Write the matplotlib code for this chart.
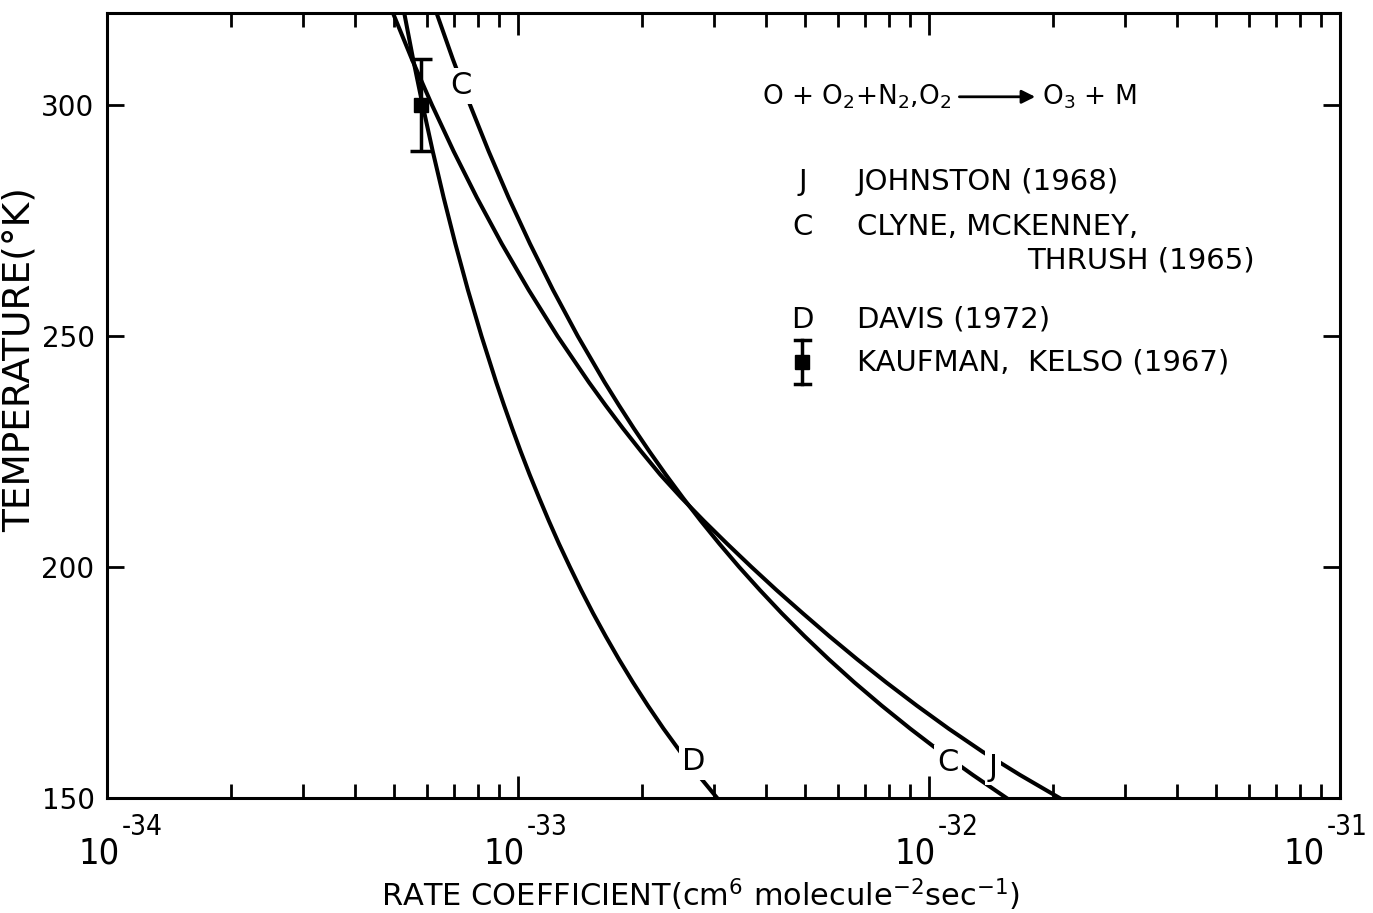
import numpy as np
import matplotlib
matplotlib.use('Agg')
import matplotlib.pyplot as plt

# temperatures (K) and rate coefficients
temps = [320, 310, 300, 290, 280, 270, 260, 250, 240, 235, 230, 225,
         220, 215, 210, 205, 200, 195, 190, 185, 180, 175, 170, 165,
         160, 155, 150]
k_johnston = [4.958e-34, 5.513e-34, 6.176e-34, 6.970e-34, 7.937e-34, 9.126e-34,
              1.061e-33, 1.247e-33, 1.487e-33, 1.633e-33, 1.800e-33, 1.994e-33,
              2.218e-33, 2.496e-33, 2.831e-33, 3.229e-33, 3.698e-33, 4.255e-33,
              4.926e-33, 5.723e-33, 6.690e-33, 7.872e-33, 9.335e-33, 1.116e-32,
              1.350e-32, 1.663e-32, 2.077e-32]
k_clyne = [6.331e-34, 6.936e-34, 7.645e-34, 8.482e-34, 9.481e-34, 1.069e-33,
           1.216e-33, 1.397e-33, 1.624e-33, 1.760e-33, 1.913e-33, 2.088e-33,
           2.288e-33, 2.518e-33, 2.783e-33, 3.091e-33, 3.451e-33, 3.877e-33,
           4.379e-33, 4.981e-33, 5.705e-33, 6.585e-33, 7.667e-33, 9.000e-33,
           1.066e-32, 1.277e-32, 1.543e-32]
k_davis = [5.283e-34, 5.553e-34, 5.858e-34, 6.200e-34, 6.590e-34, 7.036e-34,
           7.549e-34, 8.147e-34, 8.847e-34, 9.245e-34, 9.678e-34, 1.015e-33,
           1.067e-33, 1.125e-33, 1.188e-33, 1.258e-33, 1.337e-33, 1.424e-33,
           1.522e-33, 1.634e-33, 1.760e-33, 1.904e-33, 2.069e-33, 2.259e-33,
           2.482e-33, 2.742e-33, 3.050e-33]

# Kaufman, Kelso (1967) room temperature point
kaufman_k = [5.8e-34]
kaufman_T = [300]
kaufman_err = [10]

xtick_vals = [1e-34, 1e-33, 1e-32, 1e-31]
xtick_exps = ['-34', '-33', '-32', '-31']
xtick_shift = [9, 5, 5, -11]   # points, where "10" ends

plt.rcParams['font.family'] = 'DejaVu Sans'

fig = plt.figure(figsize=(13.73, 9.13), dpi=100)
ax = fig.add_axes([0.078, 0.126, 0.898, 0.860])

lw = 2.9
ax.plot(k_johnston, temps, color='k', lw=lw)
ax.plot(k_clyne, temps, color='k', lw=lw)
ax.plot(k_davis, temps, color='k', lw=lw)
ax.errorbar(kaufman_k, kaufman_T, yerr=kaufman_err, fmt='s', color='k',
            ms=10, capsize=8, elinewidth=2.5, capthick=2.5)

# curve letters (white box breaks the line like the original)
box = dict(facecolor='white', edgecolor='none', pad=2.5)
ax.text(7.26e-34, 304.2, 'C', fontsize=22, ha='center', va='center', bbox=box)
ax.text(2.68e-33, 157.8, 'D', fontsize=22, ha='center', va='center', bbox=box)
ax.text(1.11e-32, 157.6, 'C', fontsize=22, ha='center', va='center', bbox=box)
ax.text(1.43e-32, 156.7, 'J', fontsize=22, ha='center', va='center', bbox=box)

ax.set_xscale('log')
ax.set_xlim(1e-34, 1e-31)
ax.set_ylim(150, 320)
ax.set_yticks([150, 200, 250, 300])
ax.set_xticks(xtick_vals)
ax.set_xticklabels([])

ax.tick_params(which='both', direction='in', top=True, right=True, width=2)
ax.tick_params(axis='x', which='major', length=16)
ax.tick_params(axis='x', which='minor', length=10)
ax.tick_params(axis='y', which='major', length=12, pad=9, labelsize=20)
for s in ax.spines.values():
    s.set_linewidth(2.2)

# x tick labels: big "10" with a raised exponent, like the original
xt = ax.get_xaxis_transform()
for v, e, dx in zip(xtick_vals, xtick_exps, xtick_shift):
    ax.annotate('10', xy=(v, 0), xycoords=xt, xytext=(dx, -47),
                textcoords='offset points', ha='right', va='baseline',
                fontsize=26, fontstretch='condensed')
    ax.annotate(e, xy=(v, 0), xycoords=xt, xytext=(dx + 1.5, -27),
                textcoords='offset points', ha='left', va='baseline',
                fontsize=20, fontstretch='condensed')

ax.set_xlabel('RATE COEFFICIENT(cm$^6$ molecule$^{-2}$sec$^{-1}$)', fontsize=22)
ax.xaxis.set_label_coords(0.481, -0.100)
ax.set_ylabel('TEMPERATURE(°K)', fontsize=27)
ax.yaxis.set_label_coords(-0.056, 0.558)

# reaction and legend block
tr = ax.transAxes
fs = 21
ax.text(0.531, 0.893, 'O + O$_2$+N$_2$,O$_2$', transform=tr, fontsize=19,
        va='center', ha='left')
ax.annotate('', xy=(0.755, 0.893), xytext=(0.689, 0.893), xycoords=tr,
            arrowprops=dict(arrowstyle='-|>', color='k', lw=2, mutation_scale=20))
ax.text(0.758, 0.893, 'O$_3$ + M', transform=tr, fontsize=19,
        va='center', ha='left')

letters = ['J', 'C', '', 'D']
names = ['JOHNSTON (1968)', 'CLYNE, MCKENNEY,', 'THRUSH (1965)', 'DAVIS (1972)']
rows = [0.784, 0.727, 0.684, 0.609]
for let, name, y in zip(letters, names, rows):
    ax.text(0.564, y, let, transform=tr, fontsize=fs, va='center', ha='center')
    if name.startswith('THRUSH'):
        ax.text(0.931, y, name, transform=tr, fontsize=fs, va='center', ha='right')
    else:
        ax.text(0.608, y, name, transform=tr, fontsize=fs, va='center', ha='left')

ax.text(0.608, 0.555, 'KAUFMAN,  KELSO (1967)', transform=tr, fontsize=fs,
        va='center', ha='left')
ax.plot([0.564, 0.564], [0.527, 0.583], color='k', lw=2.5, transform=tr)
ax.plot([0.558, 0.570], [0.527, 0.527], color='k', lw=2.5, transform=tr)
ax.plot([0.558, 0.570], [0.583, 0.583], color='k', lw=2.5, transform=tr)
ax.plot([0.564], [0.555], marker='s', ms=10, color='k', transform=tr)

fig.savefig('out.png', dpi=100)
